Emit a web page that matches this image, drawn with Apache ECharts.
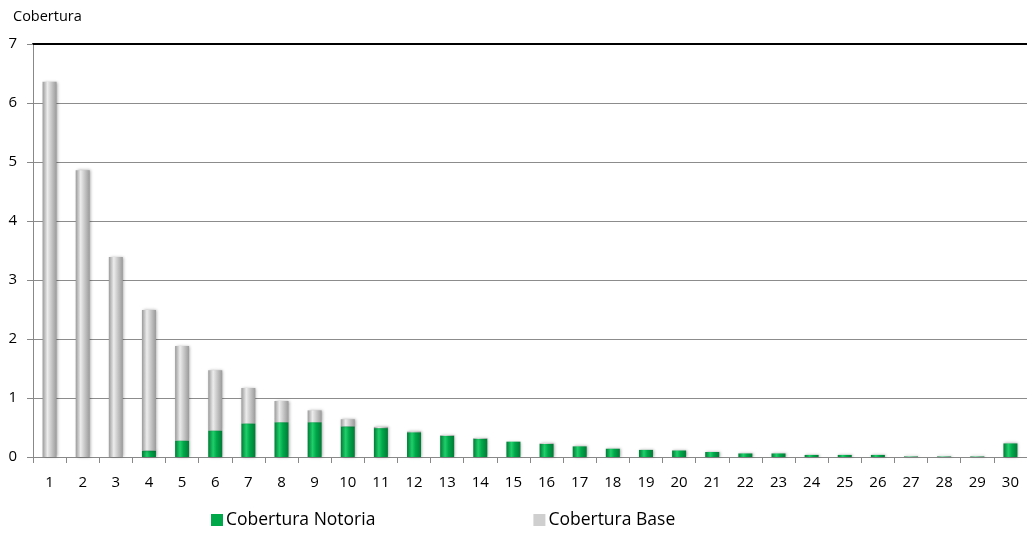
<!DOCTYPE html>
<html>
<head>
<meta charset="utf-8">
<script src="https://cdn.jsdelivr.net/npm/echarts@6/dist/echarts.min.js"></script>
<style>html,body{margin:0;padding:0;background:#fff;}#c{width:1027px;height:541px;}</style>
</head>
<body>
<div id="c"></div>
<script>
var categories = ['1','2','3','4','5','6','7','8','9','10','11','12','13','14','15','16','17','18','19','20','21','22','23','24','25','26','27','28','29','30'];
var notoria = [0,0,0,0.11,0.28,0.45,0.57,0.59,0.59,0.52,0.49,0.42,0.36,0.31,0.26,0.22,0.18,0.14,0.12,0.11,0.085,0.06,0.06,0.035,0.035,0.035,0.01,0.01,0.01,0.23];
var base = [6.36,4.86,3.39,2.38,1.60,1.02,0.60,0.36,0.20,0.12,0.02,0.01,0.01,0.01,0,0.01,0,0,0,0,0,0,0,0,0,0,0.005,0.005,0.005,0];
var yTicks = [0,1,2,3,4,5,6,7];

var chart = echarts.init(document.getElementById('c'));
function grad(edge, mid, light) {
  return new echarts.graphic.LinearGradient(0,0,1,0,[
    {offset:0,color:edge},{offset:0.35,color:light},{offset:0.6,color:mid},{offset:1,color:edge}
  ]);
}
var font = 'Open Sans';
chart.setOption({
  animation:false,
  textStyle:{fontFamily:font},
  grid:{left:33, top:44, width:996, height:413},
  legend:{
    left:206, top:506, itemWidth:12, itemHeight:12, itemGap:158,
    textStyle:{fontSize:17.5, color:'#000', fontFamily:font, padding:[0,0,0,-2]},
    data:[
      {name:'Cobertura Notoria', icon:'rect', itemStyle:{color:'#00a84a'}},
      {name:'Cobertura Base', icon:'rect', itemStyle:{color:'#cfcfcf'}}
    ]
  },
  xAxis:[{
    type:'category', data:categories,
    axisLine:{lineStyle:{color:'#888', width:1}},
    axisTick:{show:true, length:6, lineStyle:{color:'#888'}},
    axisLabel:{color:'#000', fontSize:15, margin:18, interval:0}
  },{
    type:'category', position:'top', data:categories,
    axisLine:{lineStyle:{color:'#000', width:2}},
    axisTick:{show:false}, axisLabel:{show:false}
  }],
  yAxis:{
    type:'value', min:0, max:7, interval:1,
    name:'Cobertura', nameGap:20,
    nameTextStyle:{color:'#000', fontSize:14.5, align:'left', padding:[0,0,0,-20]},
    axisLine:{show:true, lineStyle:{color:'#888'}},
    axisTick:{show:true, length:6, lineStyle:{color:'#888'}},
    axisLabel:{color:'#000', fontSize:15, margin:16},
    splitLine:{lineStyle:{color:'#8c8c8c', width:1}}
  },
  series:[{
    name:'Cobertura Notoria', type:'bar', stack:'a', barWidth:14, data:notoria,
    itemStyle:{color:grad('#007a35','#00a84a','#1fcf6a'), shadowColor:'rgba(0,0,0,0.35)', shadowBlur:3, shadowOffsetX:1}
  },{
    name:'Cobertura Base', type:'bar', stack:'a', barWidth:14, data:base,
    itemStyle:{color:grad('#9a9a9a','#cccccc','#ececec'), shadowColor:'rgba(0,0,0,0.35)', shadowBlur:3, shadowOffsetX:1}
  }]
});
</script>
</body>
</html>
